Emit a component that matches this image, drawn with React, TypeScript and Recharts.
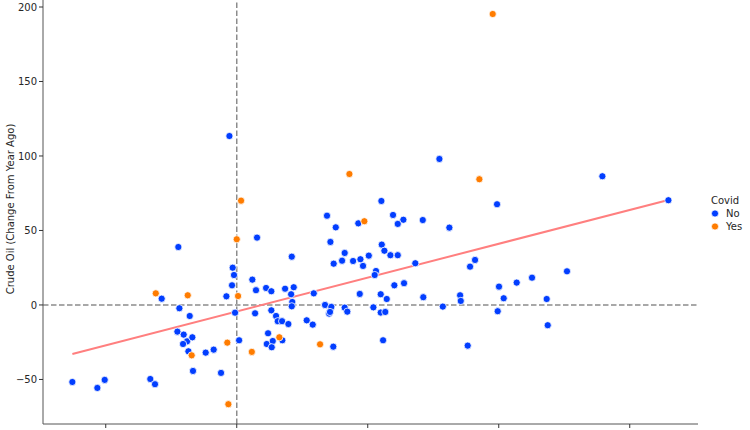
import React from "react";
import {
  ScatterChart,
  Scatter,
  XAxis,
  YAxis,
  ReferenceLine,
} from "recharts";

const noX = [
  -12.55, -10.64, -10.08, -6.6, -6.24, -5.73, -4.46, -4.38, -3.59, -4.53,
  -4.05, -3.79, -4.1, -3.39, -3.69, -3.34, -2.37, -1.76, -1.2, -0.79,
  -0.31, -0.21, -0.36, -0.13, 0.18, -0.56, 1.55, 1.19, 1.47, 2.24,
  2.64, 4.2, 3.69, 4.35, 4.15, 4.24, 4.2, 5.88, 1.4, 2.64,
  3.0, 3.13, 3.46, 3.94, 2.39, 2.29, 2.75, 2.67, 3.48, 5.34,
  5.8, 6.74, 7.22, 7.05, 7.12, 7.37, 6.89, 7.15, 7.4, 7.56,
  9.28, 11.93, 12.72, 12.29, 14.2, 8.24, 8.04, 8.88, 9.44, 9.64,
  10.08, 11.07, 11.27, 11.73, 12.29, 10.63, 10.53, 13.63, 12.03, 12.77,
  9.39, 10.99, 11.45, 14.24, 8.24, 8.44, 10.43, 10.99, 11.34, 11.17,
  16.23, 17.81, 18.19, 17.05, 17.1, 15.73, 17.63, 15.47, 19.87, 20.02,
  20.38, 21.37, 22.54, 19.92, 23.66, 23.74, 25.21, 27.91, 32.95, 11.04,
];
const noY = [
  -51.7, -55.7, -50.3, -49.7, -53.2, 4.2, 38.9, -2.2, -7.4, -17.9,
  -19.9, -24.4, -26.2, -21.7, -31.1, -44.3, -32.0, -30.0, -45.6, 5.8,
  25.0, 20.1, 13.2, -5.2, -23.7, 113.4, 45.2, 17.0, 9.9, 11.4,
  9.2, 32.4, 10.9, 11.9, 7.2, 2.0, -0.9, 7.8, -5.6, -3.6,
  -7.4, -10.9, -10.9, -12.8, -19.0, -26.2, -24.2, -28.4, -23.7, -10.3,
  -13.2, 0.0, -1.3, -5.8, -4.7, -28.0, 59.9, 42.3, 27.7, 52.1,
  54.8, 60.4, 57.2, 54.4, 57.0, 34.9, 29.7, 29.5, 30.7, 26.2,
  33.1, 40.5, 36.4, 33.4, 33.4, 22.8, 20.1, 28.0, 13.2, 14.6,
  7.4, 7.2, 4.0, 5.2, -1.8, -4.5, -1.6, -5.1, -4.7, -23.7,
  51.9, 25.7, 30.2, 6.5, 2.7, -1.1, -27.3, 98.0, 67.6, 12.3,
  4.5, 15.0, 18.3, -4.2, 4.0, -13.6, 22.6, 86.4, 70.3, 69.8,
];
const yesX = [
  -6.18, -3.74, -3.44, -0.72, -0.64, 0.0, 0.1, 0.33, 1.15, 3.25,
  6.36, 8.6, 9.74, 18.52, 19.54,
];
const yesY = [
  7.8, 6.5, -33.8, -25.3, -66.6, 44.1, 6.0, 70.0, -31.5, -21.7,
  -26.4, 87.9, 56.2, 84.4, 195.3,
];
const trendX = [-12.55, 32.95];
const trendY = [-32.9, 70.5];
const xTicks = [-10, 0, 10, 20, 30];
const yTicks = [-50, 0, 50, 100, 150, 200];
const legendTitle = "Covid";
const legendLabels = ["No", "Yes"];

const BLUE = "#023eff";
const ORANGE = "#ff7c00";
const FONT = "DejaVu Sans, sans-serif";

const noData = noX.map((x, i) => ({ x, y: noY[i] }));
const yesData = yesX.map((x, i) => ({ x, y: yesY[i] }));
const trendData = trendX.map((x, i) => ({ x, y: trendY[i] }));

const makeDot = (color: string) => (props: any) => {
  const { cx, cy } = props;
  if (cx == null || cy == null) return <g />;
  return <circle cx={cx} cy={cy} r={3.6} fill={color} stroke="#ffffff" strokeWidth={0.8} />;
};

const LegendBox = () => {
  const colors = [BLUE, ORANGE];
  return (
    <div style={{ fontFamily: FONT, fontSize: 10, color: "#262626", lineHeight: "13px" }}>
      <div style={{ marginLeft: 1 }}>{legendTitle}</div>
      {legendLabels.map((l, i) => (
        <div key={l} style={{ display: "flex", alignItems: "center" }}>
          <svg width={14} height={13}>
            <circle cx={5} cy={6.5} r={3.6} fill={colors[i]} stroke="#fff" strokeWidth={0.8} />
          </svg>
          <span style={{ marginLeft: 2 }}>{l}</span>
        </div>
      ))}
    </div>
  );
};

const EmptyTick = () => <g />;

export default function App() {
  return (
    <div style={{ position: "absolute", left: 0, top: 0, width: 750, height: 430, background: "#fff" }}>
      <ScatterChart
        width={750}
        height={430}
        margin={{ top: 0, right: 52, bottom: 0, left: 0 }}
        style={{ fontFamily: FONT }}
      >
        <XAxis
          type="number"
          dataKey="x"
          domain={[-14.79, 35.21]}
          ticks={xTicks}
          allowDataOverflow
          height={6}
          tickSize={4}
          stroke="#555"
          tickLine={{ stroke: "#333" }}
          tick={EmptyTick}
        />
        <YAxis
          type="number"
          dataKey="y"
          domain={[-79.9, 204.7]}
          ticks={yTicks}
          allowDataOverflow
          width={43}
          tickSize={4}
          stroke="#555"
          tickLine={{ stroke: "#333" }}
          tick={{ fill: "#262626", fontSize: 10, fontFamily: FONT }}
          tickFormatter={(v: number) => (v < 0 ? "\u2212" + Math.abs(v) : String(v))}
          label={{
            value: "Crude Oil (Change From Year Ago)",
            angle: -90,
            position: "insideLeft",
            dx: 5,
            dy: -3,
            style: { textAnchor: "middle", fontSize: 10, fill: "#262626", fontFamily: FONT },
          }}
        />
        <ReferenceLine x={0} stroke="#8c8c8c" strokeWidth={1.5} strokeDasharray="5.5 2.5" />
        <ReferenceLine y={0} stroke="#8c8c8c" strokeWidth={1.5} strokeDasharray="5.5 2.5" />
        <Scatter
          data={trendData}
          line={{ stroke: "#ff7f7f", strokeWidth: 2 }}
          shape={() => <g />}
          isAnimationActive={false}
          legendType="none"
        />
        <Scatter data={noData} shape={makeDot(BLUE)} isAnimationActive={false} />
        <Scatter data={yesData} shape={makeDot(ORANGE)} isAnimationActive={false} />
      </ScatterChart>
      <div style={{ position: "absolute", left: 710, top: 194 }}>
        <LegendBox />
      </div>
    </div>
  );
}
